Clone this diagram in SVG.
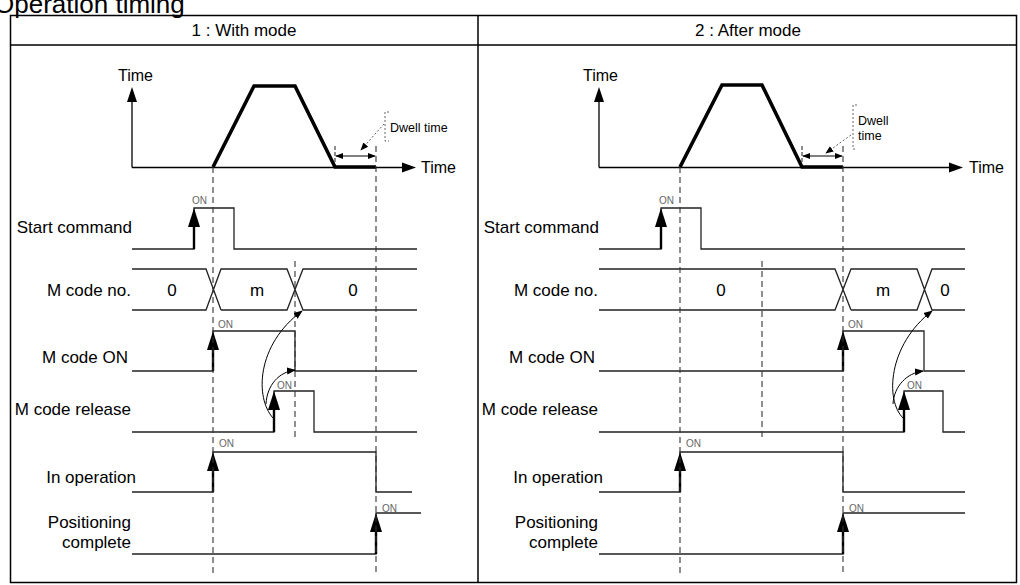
<svg xmlns="http://www.w3.org/2000/svg" xmlns:xlink="http://www.w3.org/1999/xlink" width="1020" height="585" viewBox="0 0 1020 585">
<style>
text{font-family:"Liberation Sans",Arial,sans-serif;fill:#000}
.lbl{font-size:17px;text-anchor:end}
.hdr{font-size:17px;text-anchor:middle}
.val{font-size:17px;text-anchor:middle}
.on{font-size:10px;fill:#666}
.dw{font-size:12.5px}
.sig{fill:none;stroke:#222;stroke-width:1.3}
.stem{stroke:#000;stroke-width:2.4}
.dash{stroke:#333;stroke-width:1.1;stroke-dasharray:6,4;fill:none}
.axis{stroke:#000;stroke-width:1.3;fill:none}
.trap{fill:none;stroke:#000;stroke-width:3.6;stroke-linejoin:miter}
.thin{fill:none;stroke:#000;stroke-width:1}
.dot{fill:none;stroke:#555;stroke-width:0.9;stroke-dasharray:2,2}
</style>
<defs>
<path id="ua" d="M0,0 L-6,19 L6,19 Z" fill="#000"/>
<marker id="ah" viewBox="0 0 10 10" refX="9" refY="5" markerWidth="9" markerHeight="9" markerUnits="userSpaceOnUse" orient="auto"><path d="M0,1 L10,5 L0,9 Z" fill="#000"/></marker>
<marker id="ahs" viewBox="0 0 10 10" refX="9" refY="5" markerWidth="8" markerHeight="8" markerUnits="userSpaceOnUse" orient="auto-start-reverse"><path d="M0,1 L10,5 L0,9 Z" fill="#000"/></marker>
</defs>

<text x="-6" y="13" style="font-size:26px">Operation timing</text>

<g id="table">
<rect x="10.5" y="15.5" width="1006" height="567" fill="none" stroke="#000" stroke-width="1.5"/>
<line x1="10" y1="45" x2="1017" y2="45" stroke="#000" stroke-width="1.5"/>
<line x1="478" y1="15" x2="478" y2="583" stroke="#000" stroke-width="1.5"/>
<text class="hdr" x="244" y="36">1 : With mode</text>
<text class="hdr" x="748" y="36">2 : After mode</text>
</g>

<!-- LEFT PANEL -->
<g id="left-graph">
<line class="axis" x1="132" y1="167.5" x2="132" y2="100"/>
<path d="M132,87 L127,102 L137,102 Z"/>
<line class="axis" x1="132" y1="167.5" x2="403" y2="167.5"/>
<path d="M416,167.5 L402,162.5 L402,172.5 Z"/>
<text x="118" y="81" style="font-size:16px">Time</text>
<text x="421" y="173" style="font-size:16px">Time</text>
<polyline class="trap" points="213,167 254,86 295,86 335,167 376,167"/>
<line class="dash" x1="335" y1="146" x2="335" y2="163" style="stroke-dasharray:4,2"/>
<line class="thin" x1="336" y1="156" x2="375" y2="156" marker-start="url(#ahs)" marker-end="url(#ahs)"/>
<line class="dot" x1="384" y1="124" x2="361" y2="150" marker-end="url(#ahs)"/>
<path class="dot" d="M389,112 H385 V141 H389"/>
<text class="dw" x="390" y="132">Dwell time</text>
</g>

<g id="left-labels">
<text class="lbl" x="132" y="233">Start command</text>
<text class="lbl" x="131" y="296">M code no.</text>
<text class="lbl" x="128" y="363">M code ON</text>
<text class="lbl" x="131" y="415">M code release</text>
<text class="lbl" x="136" y="483">In operation</text>
<text class="lbl" x="131" y="528">Positioning</text>
<text class="lbl" x="131" y="548">complete</text>
</g>

<g id="left-start">
<path class="sig" d="M132,249 H194 V208 H234 V249 H417"/>
<line class="stem" x1="194" y1="249" x2="194" y2="225"/>
<use xlink:href="#ua" x="194" y="208"/>
<text class="on" x="192" y="204">ON</text>
</g>
<g id="left-mcode">
<path class="sig" d="M132,269 H206 L221,310 M132,310 H206 L221,269 H287 L303,310 H417 M221,310 H287 L303,269 H417"/>
<text class="val" x="172" y="296">0</text>
<text class="val" x="257" y="296">m</text>
<text class="val" x="353" y="296">0</text>
</g>
<g id="left-mcodeon">
<path class="sig" d="M132,371 H213 V331 H295 V371 H417"/>
<line class="stem" x1="213" y1="371" x2="213" y2="348"/>
<use xlink:href="#ua" x="213" y="331"/>
<text class="on" x="218" y="328">ON</text>
</g>
<g id="left-release">
<path class="sig" d="M132,432 H274 V391 H314 V432 H417"/>
<line class="stem" x1="274" y1="432" x2="274" y2="408"/>
<use xlink:href="#ua" x="274" y="391"/>
<text class="on" x="277" y="389">ON</text>
</g>
<g id="left-inop">
<path class="sig" d="M132,492 H213 V452 H376 V492 H412"/>
<line class="stem" x1="213" y1="492" x2="213" y2="469"/>
<use xlink:href="#ua" x="213" y="452"/>
<text class="on" x="219" y="447">ON</text>
</g>
<g id="left-poscomp">
<path class="sig" d="M132,554 H376 V513 H421"/>
<line class="stem" x1="376" y1="554" x2="376" y2="530"/>
<use xlink:href="#ua" x="376" y="513"/>
<text class="on" x="382" y="512">ON</text>
</g>

<!-- RIGHT PANEL -->
<g id="right-graph">
<line class="axis" x1="599" y1="167.5" x2="599" y2="100"/>
<path d="M599,87 L594,102 L604,102 Z"/>
<line class="axis" x1="599" y1="167.5" x2="950" y2="167.5"/>
<path d="M963,167.5 L949,162.5 L949,172.5 Z"/>
<text x="583" y="81" style="font-size:16px">Time</text>
<text x="969" y="173" style="font-size:16px">Time</text>
<polyline class="trap" points="680,167 722,85 762,85 802,167 843,167"/>
<line class="dash" x1="802" y1="146" x2="802" y2="163" style="stroke-dasharray:4,2"/>
<line class="thin" x1="803" y1="156" x2="842" y2="156" marker-start="url(#ahs)" marker-end="url(#ahs)"/>
<line class="dot" x1="851" y1="135" x2="826" y2="153" marker-end="url(#ahs)"/>
<path class="dot" d="M857,105 H853 V149 H857"/>
<text class="dw" x="858" y="125">Dwell</text>
<text class="dw" x="858" y="140">time</text>
</g>

<g id="right-labels">
<text class="lbl" x="599" y="233">Start command</text>
<text class="lbl" x="598" y="296">M code no.</text>
<text class="lbl" x="595" y="363">M code ON</text>
<text class="lbl" x="598" y="415">M code release</text>
<text class="lbl" x="603" y="483">In operation</text>
<text class="lbl" x="598" y="528">Positioning</text>
<text class="lbl" x="598" y="548">complete</text>
</g>

<g id="right-start">
<path class="sig" d="M599,249 H661 V208 H701 V249 H965"/>
<line class="stem" x1="661" y1="249" x2="661" y2="225"/>
<use xlink:href="#ua" x="661" y="208"/>
<text class="on" x="659" y="204">ON</text>
</g>
<g id="right-mcode">
<path class="sig" d="M599,269 H835 L851,310 M599,310 H835 L851,269 H917 L932,310 H965 M851,310 H917 L932,269 H965"/>
<text class="val" x="721" y="296">0</text>
<text class="val" x="883" y="296">m</text>
<text class="val" x="945" y="296">0</text>
</g>
<g id="right-mcodeon">
<path class="sig" d="M599,371 H843 V331 H924 V371 H965"/>
<line class="stem" x1="843" y1="371" x2="843" y2="348"/>
<use xlink:href="#ua" x="843" y="331"/>
<text class="on" x="848" y="328">ON</text>
</g>
<g id="right-release">
<path class="sig" d="M599,432 H904 V391 H943 V432 H965"/>
<line class="stem" x1="904" y1="432" x2="904" y2="408"/>
<use xlink:href="#ua" x="904" y="391"/>
<text class="on" x="907" y="389">ON</text>
</g>
<g id="right-inop">
<path class="sig" d="M599,492 H680 V452 H843 V492 H965"/>
<line class="stem" x1="680" y1="492" x2="680" y2="469"/>
<use xlink:href="#ua" x="680" y="452"/>
<text class="on" x="686" y="447">ON</text>
</g>
<g id="right-poscomp">
<path class="sig" d="M599,554 H843 V513 H965"/>
<line class="stem" x1="843" y1="554" x2="843" y2="530"/>
<use xlink:href="#ua" x="843" y="513"/>
<text class="on" x="849" y="512">ON</text>
</g>

<g id="connectors">
<line class="dash" x1="213" y1="167" x2="213" y2="576"/>
<line class="dash" x1="376" y1="146" x2="376" y2="576"/>
<line class="dash" x1="295" y1="261" x2="295" y2="440"/>
<line class="dash" x1="680" y1="167" x2="680" y2="576"/>
<line class="dash" x1="843" y1="146" x2="843" y2="576"/>
<line class="dash" x1="762" y1="261" x2="762" y2="440"/>
<path class="thin" d="M273,418 C255,398 256,345 302,311" marker-end="url(#ah)"/>
<path class="thin" d="M266,404 C267,385 279,372 295,370" marker-end="url(#ah)"/>
<path class="thin" d="M903,418 C885,400 888,345 932,311" marker-end="url(#ah)"/>
<path class="thin" d="M893,404 C894,386 907,373 923,371" marker-end="url(#ah)"/>
</g>
</svg>
